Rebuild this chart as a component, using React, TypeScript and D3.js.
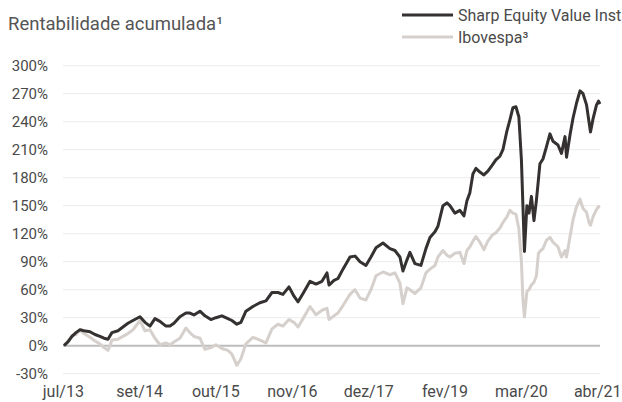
import React from 'react';
import * as d3 from 'd3';

const title = 'Rentabilidade acumulada¹';
const seriesNames = ['Sharp Equity Value Inst', 'Ibovespa³'];

// time in decimal years
const times = [
  2013.500, 2013.558, 2013.617, 2013.675, 2013.734, 2013.792, 2013.880, 2013.953, 2014.026, 2014.085,
  2014.143, 2014.201, 2014.289, 2014.362, 2014.435, 2014.508, 2014.611, 2014.684, 2014.757, 2014.830,
  2014.903, 2014.991, 2015.049, 2015.108, 2015.195, 2015.283, 2015.341, 2015.400, 2015.488, 2015.561,
  2015.648, 2015.721, 2015.809, 2015.897, 2015.955, 2016.028, 2016.087, 2016.160, 2016.262, 2016.364,
  2016.452, 2016.540, 2016.627, 2016.700, 2016.788, 2016.861, 2016.920, 2016.993, 2017.095, 2017.183,
  2017.270, 2017.343, 2017.373, 2017.446, 2017.504, 2017.577, 2017.680, 2017.753, 2017.826, 2017.913,
  2017.986, 2018.060, 2018.162, 2018.264, 2018.337, 2018.410, 2018.454, 2018.513, 2018.556, 2018.629,
  2018.717, 2018.790, 2018.849, 2018.922, 2018.966, 2019.039, 2019.097, 2019.141, 2019.214, 2019.287,
  2019.346, 2019.389, 2019.433, 2019.477, 2019.521, 2019.579, 2019.638, 2019.696, 2019.755, 2019.813,
  2019.872, 2019.916, 2019.974, 2020.018, 2020.062, 2020.106, 2020.149, 2020.186, 2020.208, 2020.230,
  2020.266, 2020.296, 2020.332, 2020.369, 2020.405, 2020.434, 2020.456, 2020.500, 2020.551, 2020.602,
  2020.646, 2020.719, 2020.770, 2020.822, 2020.844, 2020.895, 2020.939, 2020.990, 2021.041, 2021.085,
  2021.136, 2021.172, 2021.194, 2021.231, 2021.282, 2021.311, 2021.333,
];

const sharpValues = [
  0, 4, 10, 14, 17, 16, 15, 12, 10, 8,
  7, 14, 16, 20, 24, 27, 31, 25, 21, 29,
  26, 21, 21, 24, 31, 35, 35, 33, 37, 32,
  28, 30, 32, 29, 27, 23, 25, 37, 42, 46,
  48, 57, 57, 55, 63, 53, 47, 56, 69, 66,
  69, 78, 65, 70, 72, 82, 95, 96, 90, 86,
  95, 105, 110, 104, 102, 95, 80, 92, 100, 88,
  86, 104, 116, 122, 128, 150, 153, 150, 142, 145,
  139, 155, 164, 184, 190, 186, 183, 187, 193, 199,
  203, 210, 230, 242, 255, 256, 245, 199, 150, 101,
  150, 142, 160, 134, 156, 178, 195, 200, 213, 227,
  219, 215, 206, 224, 202, 226, 244, 260, 273, 270,
  258, 240, 229, 243, 258, 262, 259,
];

const ibovValues = [
  0, 5, 11, 12, 17, 13, 9, 5, 2, -2,
  -5, 6, 7, 10, 13, 17, 27, 16, 17, 8,
  1, 3, 1, 4, 8, 19, 14, 10, 8, -4,
  -2, 1, -3, -5, -9, -21, -14, 2, 9, 6,
  3, 18, 23, 21, 28, 25, 20, 29, 42, 33,
  38, 40, 28, 32, 35, 43, 55, 60, 51, 49,
  60, 75, 79, 76, 78, 67, 45, 62, 60, 56,
  62, 78, 82, 86, 95, 102, 97, 95, 99, 100,
  88, 102, 106, 112, 117, 111, 103, 112, 118, 121,
  126, 132, 138, 145, 142, 141, 125, 90, 50, 31,
  58, 60, 65, 68, 75, 99, 101, 104, 113, 116,
  111, 106, 95, 102, 95, 117, 135, 149, 157, 147,
  143, 132, 129, 138, 146, 149, 148,
];

const yTicks = [-30, 0, 30, 60, 90, 120, 150, 180, 210, 240, 270, 300];
const xTickTimes = [2013.49, 2014.606, 2015.721, 2016.837, 2017.953, 2019.069, 2020.184, 2021.3];
const xTickLabels = ['jul/13', 'set/14', 'out/15', 'nov/16', 'dez/17', 'fev/19', 'mar/20', 'abr/21'];

const colors = { sharp: '#353131', ibov: '#d6d0cd', grid: '#efefef', zero: '#bdbdbd', text: '#4a4a4a' };
const FONT = 'Roboto, sans-serif';

function toDate(t: number): Date {
  const y = Math.floor(t);
  const s = Date.UTC(y, 0, 1);
  const e = Date.UTC(y + 1, 0, 1);
  return new Date(s + (t - y) * (e - s));
}

export default function App() {
  const W = 622, H = 402;
  const x = d3.scaleUtc().domain([toDate(2013.5), toDate(2021.333)]).range([64, 600]);
  const y = d3.scaleLinear().domain([-30, 300]).range([373.7, 65.7]);

  const sharp = times.map((t, i) => ({ d: toDate(t), v: sharpValues[i] }));
  const ibov = times.map((t, i) => ({ d: toDate(t), v: ibovValues[i] }));
  const line = d3.line<{ d: Date; v: number }>().x(p => x(p.d)).y(p => y(p.v));

  const gx0 = 63, gx1 = 600;

  return (
    <svg width={W} height={H} style={{ position: 'absolute', left: 0, top: 0, background: '#fff' }} fontFamily={FONT}>
      <rect width={W} height={H} fill="#fff" />
      <text x={8} y={30} fontSize={18.5} fill="#555">{title}</text>

      {/* legend */}
      <line x1={402} x2={453} y1={15} y2={15} stroke={colors.sharp} strokeWidth={3} />
      <text x={458} y={21} fontSize={16} fill={colors.text}>{seriesNames[0]}</text>
      <line x1={402} x2={453} y1={37} y2={37} stroke={colors.ibov} strokeWidth={3} />
      <text x={458} y={42.7} fontSize={16} fill={colors.text}>{seriesNames[1]}</text>

      {/* grid */}
      {yTicks.filter(t => t !== 0).map(t => (
        <line key={t} x1={gx0} x2={gx1} y1={y(t)} y2={y(t)} stroke={colors.grid} strokeWidth={1.2} />
      ))}
      {yTicks.map(t => (
        <text key={'l' + t} x={48} y={y(t)} dy="0.35em" textAnchor="end" fontSize={15} fill={colors.text}>{t + '%'}</text>
      ))}
      <line x1={gx0} x2={gx1} y1={y(0)} y2={y(0)} stroke={colors.zero} strokeWidth={2} />

      {xTickTimes.map((t, i) => (
        <text key={'x' + i} x={x(toDate(t))} y={397} textAnchor="middle" fontSize={16} fill={colors.text}>{xTickLabels[i]}</text>
      ))}

      <path d={line(ibov) || ''} fill="none" stroke={colors.ibov} strokeWidth={3} strokeLinejoin="round" />
      <path d={line(sharp) || ''} fill="none" stroke={colors.sharp} strokeWidth={3} strokeLinejoin="round" />
    </svg>
  );
}
